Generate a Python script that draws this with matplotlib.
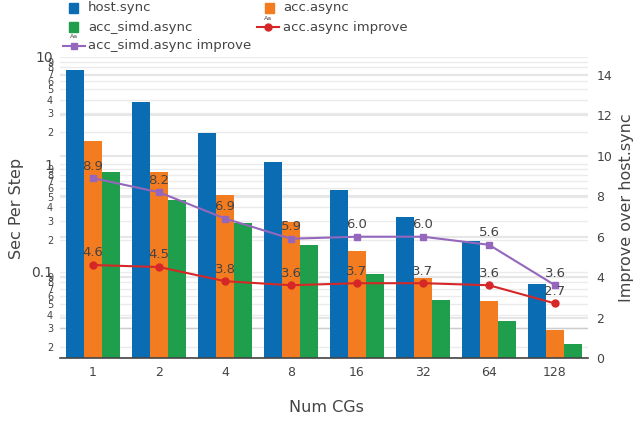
import matplotlib
matplotlib.use('Agg')
import matplotlib.pyplot as plt
import matplotlib.patches as patches
from matplotlib.lines import Line2D
from matplotlib.ticker import FixedLocator, FuncFormatter
import numpy as np

# data
num_cgs = ["1", "2", "4", "8", "16", "32", "64", "128"]
host_sync = [7.57, 3.81, 1.96, 1.05, 0.579, 0.325, 0.194, 0.0773]
acc_async = [1.645, 0.847, 0.516, 0.292, 0.156, 0.0878, 0.0539, 0.0286]
acc_simd_async = [0.850, 0.465, 0.284, 0.178, 0.0965, 0.0542, 0.0346, 0.0215]
acc_improve = [4.6, 4.5, 3.8, 3.6, 3.7, 3.7, 3.6, 2.7]
simd_improve = [8.9, 8.2, 6.9, 5.9, 6.0, 6.0, 5.6, 3.6]

series_names = ["host.sync", "acc.async", "acc_simd.async",
                "acc.async improve", "acc_simd.async improve"]

C_BLUE = '#0a6db3'
C_ORANGE = '#f47c20'
C_GREEN = '#1f9e4b'
C_RED = '#d62728'
C_PURPLE = '#9467bd'
TXT = '#444444'
GRID = '#ebebeb'

W, H = 642, 422


def fx(px):
    return px / W


def fy(py):
    return 1 - py / H


fig = plt.figure(figsize=(W / 100, H / 100), dpi=100)
ax = fig.add_axes([fx(60), fy(358), fx(588) - fx(60), fy(57) - fy(358)])

x = np.arange(len(num_cgs))
bw = 0.273
ax.bar(x - bw, host_sync, bw, color=C_BLUE, zorder=2)
ax.bar(x, acc_async, bw, color=C_ORANGE, zorder=2)
ax.bar(x + bw, acc_simd_async, bw, color=C_GREEN, zorder=2)

ax.set_yscale('log')
ax.set_ylim(0.0158, 10)
ax.set_xlim(-0.5, len(num_cgs) - 0.5)
ax.set_xticks(x)
ax.set_xticklabels(num_cgs, fontsize=9, color=TXT)

# left log ticks: majors big, minors as small digits
majors = [0.1, 1, 10]
minors = [m * d for d in (0.01, 0.1, 1) for m in range(2, 10)]
minors = [v for v in minors if 0.0158 <= v <= 10]
ax.yaxis.set_major_locator(FixedLocator(majors))
ax.yaxis.set_minor_locator(FixedLocator(minors))
ax.yaxis.set_major_formatter(FuncFormatter(lambda v, p: f"{v:g}"))
ax.yaxis.set_minor_formatter(FuncFormatter(
    lambda v, p: str(int(round(v / 10 ** np.floor(np.log10(v) + 1e-9))))))
ax.tick_params(axis='y', which='major', length=0, pad=5, labelsize=10, labelcolor=TXT)
ax.tick_params(axis='y', which='minor', length=0, pad=5, labelsize=7, labelcolor=TXT)
ax.tick_params(axis='x', length=0, pad=6)

for v in majors + minors:
    ax.axhline(v, color=GRID, lw=1, zorder=0)
ax.axhline(0.03, color='#cccccc', lw=1, zorder=0.5)

for s in ['top', 'left', 'right']:
    ax.spines[s].set_visible(False)
ax.spines['bottom'].set_color(TXT)
ax.spines['bottom'].set_linewidth(1.2)
ax.spines['bottom'].set_zorder(3)

# right axis
ax2 = ax.twinx()
y2top = 14 + 18 / 20.21
ax2.set_ylim(0, y2top)
r_ticks = list(range(0, 15, 2))
ax2.set_yticks(r_ticks)
ax2.tick_params(axis='y', length=0, pad=6, labelsize=9, labelcolor=TXT)
for s in ['top', 'left', 'right', 'bottom']:
    ax2.spines[s].set_visible(False)
for v in r_ticks:
    ax.plot([0, 1], [v / y2top] * 2, transform=ax.transAxes,
            color='#e6e6e6', lw=1.5, zorder=0)

ax2.plot(x, acc_improve, color=C_RED, lw=1.5, marker='o', ms=5, zorder=4)
ax2.plot(x, simd_improve, color=C_PURPLE, lw=1.5, marker='s', ms=5, zorder=4)
for xi, v in zip(x, acc_improve):
    ax2.annotate(f"{v:.1f}", (xi, v), xytext=(0, 4), textcoords='offset points',
                 ha='center', va='bottom', fontsize=9.5, color=TXT, zorder=5)
for xi, v in zip(x, simd_improve):
    ax2.annotate(f"{v:.1f}", (xi, v), xytext=(0, 4), textcoords='offset points',
                 ha='center', va='bottom', fontsize=9.5, color=TXT, zorder=5)

# axis titles
fig.text(fx(17), fy(208), "Sec Per Step", rotation=90, ha='center', va='center',
         fontsize=11.5, color=TXT)
fig.text(fx(627), fy(208), "Improve over host.sync", rotation=90, ha='center',
         va='center', fontsize=11.5, color=TXT)
fig.text(fx(326), fy(408), "Num CGs", ha='center', va='center',
         fontsize=11.5, color=TXT)

# legend (drawn by hand to match the layout)
leg_items = [
    (series_names[0], 'bar', C_BLUE, 73, 88, 8),
    (series_names[1], 'bar', C_ORANGE, 269, 283, 8),
    (series_names[2], 'bar', C_GREEN, 73, 88, 27),
    (series_names[3], 'line_o', C_RED, 268, 283, 27),
    (series_names[4], 'line_s', C_PURPLE, 74, 88, 46),
]
for name, kind, col, mx, tx, ty in leg_items:
    if kind == 'bar':
        fig.add_artist(patches.Rectangle((fx(mx - 4.5), fy(ty + 4.5)), 9 / W, 9 / H,
                                         transform=fig.transFigure, color=col))
    else:
        mk = 'o' if kind == 'line_o' else 's'
        fig.add_artist(Line2D([fx(mx - 11), fx(mx + 11)], [fy(ty), fy(ty)],
                              transform=fig.transFigure, color=col, lw=1.5))
        fig.add_artist(Line2D([fx(mx)], [fy(ty)], transform=fig.transFigure,
                              color=col, marker=mk, ms=5))
        fig.text(fx(mx), fy(ty - 9), "Aa", ha='center', va='center',
                 fontsize=4.5, color=TXT)
    fig.text(fx(tx), fy(ty), name, ha='left', va='center', fontsize=9.5, color=TXT)

fig.savefig('out.png', dpi=100)
plt.close(fig)
